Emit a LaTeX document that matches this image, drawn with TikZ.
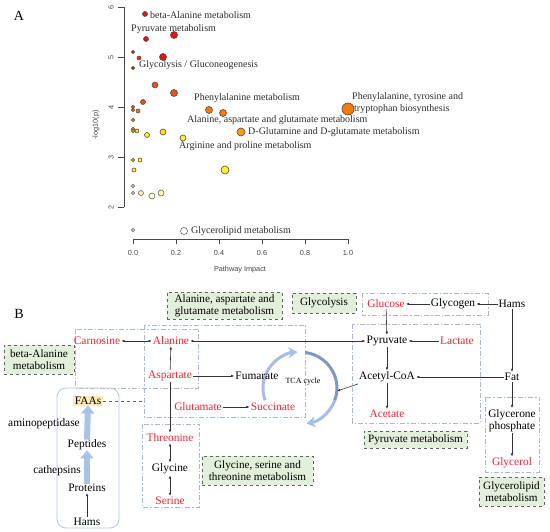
\documentclass[tikz,border=0pt]{standalone}
\usepackage{fontspec}
\setmainfont{Liberation Serif}
\setsansfont{Liberation Sans}
\usetikzlibrary{arrows.meta}
\definecolor{pr1}{RGB}{222,22,22}
\definecolor{pr2}{RGB}{226,48,22}
\definecolor{pr3}{RGB}{232,82,26}
\definecolor{pr4}{RGB}{240,122,22}
\definecolor{pr5}{RGB}{246,158,24}
\definecolor{pr6}{RGB}{248,195,34}
\definecolor{pr7}{RGB}{250,222,40}
\definecolor{pr8}{RGB}{250,242,55}
\definecolor{pr9}{RGB}{248,248,165}
\definecolor{ptout}{RGB}{95,70,55}
\definecolor{txtA}{RGB}{45,45,45}
\definecolor{axgray}{RGB}{70,70,70}
\definecolor{redtxt}{RGB}{224,40,56}
\definecolor{gfill}{RGB}{226,239,218}
\definecolor{gdraw}{RGB}{100,100,100}
\definecolor{bdash}{RGB}{170,183,205}
\definecolor{faasbox}{RGB}{175,198,228}
\definecolor{faasfill}{RGB}{252,233,180}
\definecolor{blkarrow}{RGB}{168,195,230}
\definecolor{tcaL}{RGB}{165,190,225}
\definecolor{tcaR}{RGB}{128,150,195}
\tikzset{
  pt/.style={draw=ptout, line width=0.6pt},
  lblA/.style={anchor=west, inner sep=0pt, font=\fontsize{10}{11}\selectfont, text=txtA},
  axlab/.style={font=\sffamily\fontsize{7.3}{8}\selectfont, text=axgray, inner sep=0pt},
  tx/.style={inner sep=1pt, font=\fontsize{11.4}{12}\selectfont},
  rtx/.style={tx, text=redtxt},
  gbox/.style={draw=gdraw, dashed, fill=gfill, line width=0.6pt, inner sep=0pt, align=center, font=\fontsize{11.2}{12}\selectfont},
  encl/.style={draw=bdash, line width=0.7pt, dash pattern=on 5pt off 2pt on 1.5pt off 2pt},
  arr/.style={-{Latex[length=3.2pt,width=2.6pt]}, line width=0.6pt, black!80},
  darr/.style={{Latex[length=3.2pt,width=2.6pt]}-{Latex[length=3.2pt,width=2.6pt]}, line width=0.6pt, black!80},
  blk/.style={-{Triangle[length=8pt,width=13pt]}, line width=6pt, blkarrow},
}
\begin{document}
\begin{tikzpicture}[x=1pt,y=-1pt]
\useasboundingbox (0,0) rectangle (550,532);
\fill[white] (0,0) rectangle (550,532);

% ---------------- Panel A ----------------
\node[font=\fontsize{14}{14}\selectfont, inner sep=0pt] (labA) at (19,16) {A};

% y axis
\draw[axgray, line width=0.6pt] (124,7) -- (124,207);
\foreach \yy/\vv in {7/6,57/5,107/4,157/3,207/2}{
  \draw[axgray, line width=0.6pt] (124,\yy) -- (118,\yy);
  \node[axlab, rotate=90] at (111,\yy) {\vv};
}
\node[axlab, rotate=90] (ylab) at (96,125) {-log10(p)};

% x axis
\draw[axgray, line width=0.6pt] (133,239) -- (348,239);
\foreach \xx/\vv in {133/0.0,176/0.2,219/0.4,262/0.6,305/0.8,348/1.0}{
  \draw[axgray, line width=0.6pt] (\xx,239) -- (\xx,244);
  \node[axlab] at (\xx,253) {\vv};
}
\node[axlab] (xlab) at (240,270) {Pathway Impact};

% points
\foreach \px/\py/\r/\c in {
 145/14/2.5/pr1, 174/35/3.5/pr1, 146/39/2.5/pr1,
 133/52/1.6/pr2, 139/58/2/pr2, 163/57/3.5/pr1, 133/68/1.6/pr2,
 155/85/3/pr3, 174/93/3.5/pr3, 143/102/2.5/pr3,
 133/107/1.6/pr4, 133/110/1.6/pr4, 138/111/2/pr4,
 209/110/3.5/pr4, 223/113/3.5/pr4, 348/109/6/pr4,
 133/120/1.6/pr6, 133/129/1.6/pr6, 133/131/1.6/pr7, 137/131/2/pr7,
 147/135/2.5/pr8, 163/132/3/pr7, 183/138/3/pr8, 241/132/4/pr5,
 133/160/1.6/pr8, 140/160/2/pr8, 134/170/2/pr8, 225/170/4/pr8}{
  \filldraw[pt, fill=\c] (\px,\py) circle[radius=\r];
}
\foreach \px/\py/\r/\c in {
 133/186/1.6/pr9, 133/193/1.6/pr9!60!white, 141/193/2.5/pr9,
 152/196/3/pr9!60!white, 161/193/3/pr9, 133/230/1.6/white, 184/231/3.5/white}{
  \filldraw[draw=gray!80!black, line width=0.6pt, fill=\c] (\px,\py) circle[radius=\r];
}

% point labels
\node[lblA] (l1) at (150,15) {beta-Alanine metabolism};
\node[lblA] (l2) at (131,29) {Pyruvate metabolism};
\node[lblA] (l3) at (139,65) {Glycolysis / Gluconeogenesis};
\node[lblA] (l4) at (194,98) {Phenylalanine metabolism};
\node[lblA] (l5) at (187,120) {Alanine, aspartate and glutamate metabolism};
\node[lblA] (l6) at (248,132) {D-Glutamine and D-glutamate metabolism};
\node[lblA] (l7) at (179,146) {Arginine and proline metabolism};
\node[lblA] (l8a) at (352,97) {Phenylalanine, tyrosine and};
\node[lblA] (l8b) at (354,109) {tryptophan biosynthesis};
\node[lblA] (l9) at (191,231) {Glycerolipid metabolism};

% ---------------- Panel B ----------------
\node[font=\fontsize{14}{14}\selectfont, inner sep=0pt] (labB) at (19,314) {B};

% enclosures
\draw[encl] (75,329) rectangle (198,388);
\draw[encl] (144,325) rectangle (305,417);
\draw[encl] (142,424) rectangle (199,507);
\draw[encl] (362,293) rectangle (488,315);
\draw[encl] (352,324) rectangle (480,423);
\draw[encl] (485,397) rectangle (539,472);
\draw[draw=faasbox, line width=0.8pt, rounded corners=9pt] (57,388) rectangle (119,528);

% green boxes
\node[gbox, minimum width=115pt, minimum height=27pt] (gAAG) at (224.5,306) {Alanine, aspartate and\\glutamate metabolism};
\node[gbox, minimum width=64pt, minimum height=20pt] (gGly) at (324,303) {Glycolysis};
\node[gbox, minimum width=70pt, minimum height=29pt] (gBeta) at (39,359.5) {beta-Alanine\\metabolism};
\node[gbox, minimum width=103pt, minimum height=17pt] (gPyr) at (415.5,439.5) {Pyruvate metabolism};
\node[gbox, minimum width=65pt, minimum height=29pt] (gGlyl) at (511.5,491.5) {Glycerolipid\\metabolism};
\node[gbox, minimum width=111pt, minimum height=29pt] (gGST) at (257.5,470.5) {Glycine, serine and\\threonine metabolism};

% TCA cycle
\draw[tcaL, line width=3pt, -{Stealth[length=9pt,width=11pt]}] (265.2,400.3) arc[start angle=160, end angle=266, x radius=37, y radius=36];
\draw[tcaR, line width=3pt] (305.1,352.4) arc[start angle=278, end angle=380, x radius=37, y radius=36];
\draw[tcaL, line width=3pt, -{Stealth[length=9pt,width=11pt]}] (334.8,400.3) arc[start angle=20, end angle=80, x radius=37, y radius=36];
\coordinate (tcaE) at (337,391);

% metabolites
\node[rtx] (carn) at (97,341) {Carnosine};
\node[rtx] (ala) at (171,341) {Alanine};
\node[rtx] (asp) at (170,376) {Aspartate};
\node[tx] (fum) at (257,376) {Fumarate};
\node[inner sep=1pt, font=\fontsize{8}{9}\selectfont] (tca) at (303,382) {TCA cycle};
\node[rtx] (glu) at (198,407) {Glutamate};
\node[rtx] (suc) at (273,407) {Succinate};
\node[tx, fill=faasfill, inner sep=1.5pt] (faas) at (88,401) {FAAs};
\node[tx] (amino) at (44,424) {aminopeptidase};
\node[tx] (pep) at (87,445) {Peptides};
\node[tx] (cath) at (57,471) {cathepsins};
\node[tx] (prot) at (87,488) {Proteins};
\node[tx] (hams1) at (87,522) {Hams};
\node[rtx] (thr) at (170,438) {Threonine};
\node[tx] (gly) at (170,469) {Glycine};
\node[rtx] (ser) at (170,501) {Serine};
\node[rtx] (gluc) at (386,304) {Glucose};
\node[tx] (glyc) at (453,304) {Glycogen};
\node[tx] (hams2) at (512,304) {Hams};
\node[tx] (pyr) at (387,341) {Pyruvate};
\node[rtx] (lac) at (457,341) {Lactate};
\node[tx] (acoa) at (387,377) {Acetyl-CoA};
\node[tx] (fat) at (512,377) {Fat};
\node[rtx] (acet) at (387,414) {Acetate};
\node[tx, align=center] (glyp) at (512,420.5) {Glycerone\\phosphate};
\node[rtx] (glyl) at (512,463) {Glycerol};

% connectors
\draw[arr] (glyc) -- (gluc);
\draw[arr] (hams2) -- (glyc);
\draw[arr] (gluc) -- (pyr);
\draw[arr] (lac) -- (pyr);
\draw[arr] (pyr) -- (acoa);
\draw[arr] (acoa) -- (acet);
\draw[arr] (fat) -- (acoa);
\draw[arr] (hams2) -- (fat);
\draw[arr] (fat) -- (glyp);
\draw[arr] (glyp) -- (glyl);
\draw[darr] (ala) -- (pyr);
\draw[darr] (ala) -- (carn);
\draw[arr] (asp) -- (ala);
\draw[arr] (asp) -- (fum);
\draw[arr] (glu) -- (suc);
\draw[arr] (asp.south) -- (thr.north);
\draw[darr] (thr) -- (gly);
\draw[darr] (gly) -- (ser);
\draw[arr] (hams1) -- (prot);
\draw[arr] ([yshift=-7pt]acoa.west) -- (tcaE);
\draw[blk] ([yshift=-1pt]prot.north) -- ([yshift=1pt]pep.south);
\draw[blk] ([yshift=-1pt]pep.north) -- ([yshift=1pt]faas.south);
\coordinate (aagL) at (144,401);
\draw[gdraw, dashed, line width=0.7pt] (faas.east) -- (aagL);
\end{tikzpicture}
\end{document}
